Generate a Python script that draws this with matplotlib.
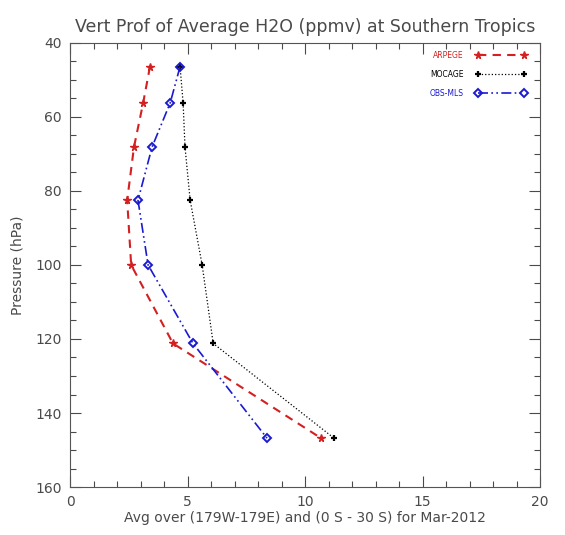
import numpy as np
import matplotlib
matplotlib.use('Agg')
import matplotlib.pyplot as plt
from matplotlib.ticker import MultipleLocator

#%% data
pressure = [46.4, 56.2, 68.1, 82.5, 100.0, 121.2, 146.8]  # hPa
arpege = [3.40, 3.11, 2.72, 2.43, 2.60, 4.38, 10.68]
mocage = [4.68, 4.81, 4.89, 5.11, 5.62, 6.09, 11.23]
obs_mls = [4.68, 4.26, 3.49, 2.89, 3.32, 5.23, 8.38]

txtcol = '#4a4a4a'

fig = plt.figure(figsize=(5.65, 5.35), dpi=100)
ax = fig.add_axes([0.124, 0.0897, 0.832, 0.830])

ax.plot(arpege, pressure, color='#d42020', ls=(0, (4, 3)), lw=1.5, marker='*',
        ms=5.5, label='ARPEGE')
ax.plot(mocage, pressure, color='black', ls=':', lw=0.9, marker='+',
        ms=4.5, mew=1.6, label='MOCAGE')
ax.plot(obs_mls, pressure, color='#1a1ad0', ls=(0, (6, 2, 1, 2, 1, 2)), lw=1.2,
        marker='D', ms=3.8, mfc='none', mew=1.4, label='OBS-MLS')

ax.set_xlim(0, 20)
ax.set_ylim(160, 40)
ax.xaxis.set_major_locator(MultipleLocator(5))
ax.xaxis.set_minor_locator(MultipleLocator(1))
ax.yaxis.set_major_locator(MultipleLocator(20))
ax.yaxis.set_minor_locator(MultipleLocator(5))
ax.tick_params(which='both', direction='in', top=True, right=True,
               colors=txtcol, labelsize=10, pad=6)
ax.tick_params(which='major', length=8, width=0.8)
ax.tick_params(which='minor', length=4, width=0.8)
for s in ax.spines.values():
    s.set_color('#555555')
    s.set_linewidth(0.8)

ax.set_title('Vert Prof of Average H2O (ppmv) at Southern Tropics',
             fontsize=12.5, color=txtcol, pad=8)
ax.set_xlabel('Avg over (179W-179E) and (0 S - 30 S) for Mar-2012',
              fontsize=10, color=txtcol, labelpad=1)
ax.set_ylabel('Pressure (hPa)', fontsize=10, color=txtcol, labelpad=8)

leg = ax.legend(loc='upper right', frameon=False, fontsize=5.5, numpoints=2,
                markerfirst=False, handlelength=6.6, labelspacing=1.3,
                bbox_to_anchor=(0.985, 0.997), handletextpad=1.6)
for t, l in zip(leg.get_texts(), leg.get_lines()):
    t.set_color(l.get_color())

fig.savefig('out.png', dpi=100)
